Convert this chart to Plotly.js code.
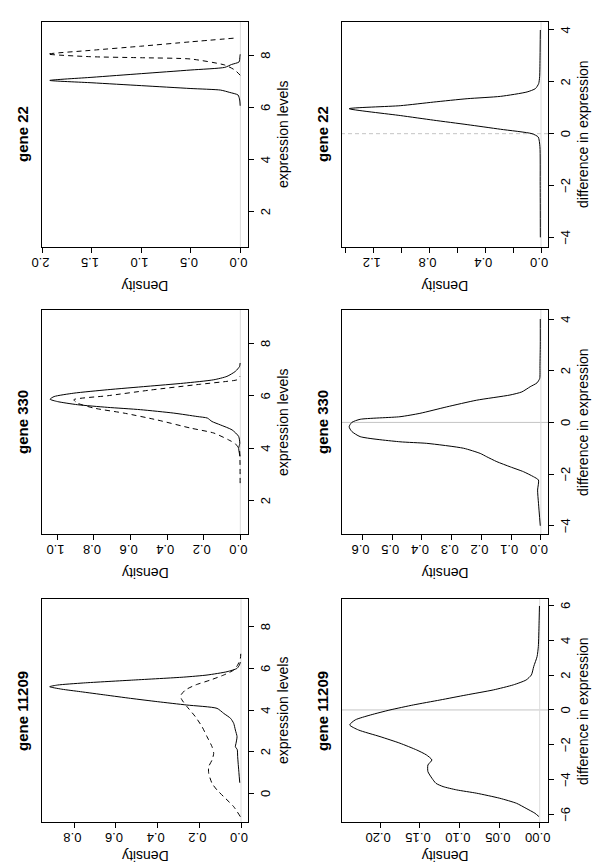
<!DOCTYPE html>
<html>
<head>
<meta charset="utf-8">
<script src="https://cdn.plot.ly/plotly-3.0.1.min.js"></script>
<style>
html, body { margin: 0; padding: 0; width: 600px; height: 865px; overflow: hidden; background: #ffffff; }
#wrap { position: absolute; left: 0; top: 0; width: 865px; height: 600px;
        transform-origin: 0 0; transform: translate(0px, 865px) rotate(-90deg); }
#chart { width: 865px; height: 600px; }
</style>
</head>
<body>
<div id="wrap"><div id="chart"></div></div>
<script>
// ---------------- data ----------------
const genes = ["gene 11209", "gene 330", "gene 22"];

// gene 11209 : expression levels (solid / dashed densities)
const e11209SolidX = [0.51, 1.0, 1.76, 2.1, 2.24, 2.4, 2.72, 3.04, 3.36, 3.6, 3.84, 4.08, 4.24, 4.4, 4.56, 4.72, 4.88, 5.0, 5.12, 5.2, 5.3, 5.44, 5.58, 5.68, 5.84, 6.0, 6.15, 6.3];
const e11209SolidY = [0.006, 0.01, 0.016, 0.018, 0.027, 0.024, 0.019, 0.027, 0.035, 0.05, 0.083, 0.115, 0.26, 0.40, 0.53, 0.65, 0.77, 0.86, 0.918, 0.88, 0.755, 0.515, 0.275, 0.163, 0.067, 0.019, 0.008, 0.003];
const e11209DashX = [-1.12, -0.64, -0.16, 0.16, 0.48, 0.96, 1.28, 1.6, 1.92, 2.24, 2.72, 3.2, 3.68, 4.16, 4.48, 4.67, 4.96, 5.2, 5.44, 5.68, 5.92, 6.16, 6.48, 6.72];
const e11209DashY = [0.003, 0.035, 0.083, 0.115, 0.139, 0.155, 0.155, 0.139, 0.131, 0.139, 0.163, 0.187, 0.219, 0.259, 0.283, 0.291, 0.267, 0.219, 0.147, 0.083, 0.035, 0.016, 0.003, 0.001];

// gene 330 : expression levels
const e330SolidX = [3.69, 4.0, 4.19, 4.45, 4.7, 4.89, 5.02, 5.15, 5.21, 5.34, 5.47, 5.56, 5.66, 5.78, 5.87, 5.97, 6.10, 6.23, 6.36, 6.48, 6.61, 6.74, 6.93, 7.12, 7.25];
const e330SolidY = [0.002, 0.009, 0.003, 0.009, 0.045, 0.109, 0.155, 0.18, 0.236, 0.364, 0.545, 0.727, 0.89, 1.0, 1.04, 1.018, 0.91, 0.727, 0.51, 0.31, 0.145, 0.073, 0.027, 0.004, 0.001];
const e330DashX = [2.67, 3.56, 3.94, 4.17, 4.32, 4.58, 4.77, 5.08, 5.34, 5.53, 5.72, 5.85, 6.0, 6.22, 6.44, 6.55, 6.61, 6.74];
const e330DashY = [0.001, 0.002, 0.005, 0.027, 0.064, 0.145, 0.273, 0.455, 0.636, 0.80, 0.89, 0.91, 0.727, 0.49, 0.218, 0.073, 0.018, 0.002];

// gene 22 : expression levels
const e22SolidX = [6.06, 6.28, 6.47, 6.57, 6.66, 6.72, 6.83, 6.94, 7.03, 7.15, 7.29, 7.43, 7.53, 7.64, 7.74, 7.94, 8.03];
const e22SolidY = [0.002, 0.007, 0.023, 0.107, 0.2, 0.5, 1.0, 1.5, 1.926, 1.5, 1.0, 0.5, 0.158, 0.09, 0.013, 0.005, 0.002];
const e22DashX = [7.23, 7.43, 7.62, 7.85, 7.90, 7.94, 8.04, 8.18, 8.34, 8.51, 8.66];
const e22DashY = [0.002, 0.057, 0.158, 0.5, 1.01, 1.52, 1.946, 1.52, 1.01, 0.5, 0.03];

// difference in expression
const d11209X = [-6.12, -5.93, -5.65, -5.36, -5.07, -4.78, -4.59, -4.40, -4.21, -3.92, -3.54, -3.16, -2.87, -2.58, -2.30, -1.91, -1.53, -1.15, -0.86, -0.57, -0.29, 0.0, 0.29, 0.57, 0.86, 1.15, 1.44, 1.72, 2.01, 2.49, 3.06, 3.64, 4.98, 5.97];
const d11209Y = [0.001, 0.006, 0.017, 0.029, 0.05, 0.079, 0.104, 0.121, 0.13, 0.135, 0.14, 0.14, 0.135, 0.142, 0.154, 0.175, 0.2, 0.227, 0.238, 0.231, 0.212, 0.1875, 0.158, 0.125, 0.092, 0.058, 0.033, 0.017, 0.0104, 0.0075, 0.0033, 0.0017, 0.0008, 0.0003];
const d330X = [-4.0, -3.13, -2.62, -2.23, -2.1, -1.91, -1.72, -1.52, -1.33, -1.2, -1.0, -0.81, -0.75, -0.55, -0.35, -0.17, 0.0, 0.12, 0.22, 0.35, 0.6, 0.86, 1.06, 1.18, 1.38, 1.53, 1.7, 2.2, 3.0, 4.0];
const d330Y = [0.002, 0.008, 0.011, 0.008, 0.025, 0.058, 0.103, 0.148, 0.182, 0.204, 0.26, 0.384, 0.474, 0.608, 0.636, 0.645, 0.636, 0.608, 0.474, 0.407, 0.317, 0.216, 0.104, 0.064, 0.036, 0.013, 0.004, 0.003, 0.002, 0.002];
const d22X = [-4.0, -2.0, -0.5, -0.13, 0.0, 0.17, 0.35, 0.52, 0.7, 0.965, 1.08, 1.22, 1.35, 1.44, 1.61, 1.74, 1.93, 2.2, 3.0, 4.0];
const d22Y = [0.005, 0.006, 0.008, 0.02, 0.065, 0.29, 0.53, 0.77, 1.01, 1.377, 1.01, 0.77, 0.53, 0.29, 0.1, 0.04, 0.017, 0.01, 0.007, 0.005];

// axis ranges and ticks (per gene: 11209, 330, 22)
const exprRanges = [[-1.39, 9.33], [0.72, 9.27], [0.66, 9.28]];
const exprDensRanges = [[-0.0336, 0.955], [-0.042, 1.084], [-0.077, 2.005]];
const diffRanges = [[-6.45, 6.37], [-4.33, 4.35], [-4.36, 4.32]];
const diffDensRanges = [[-0.0104, 0.248], [-0.024, 0.67], [-0.05, 1.43]];

const exprTicks = [[0, 2, 4, 6, 8], [2, 4, 6, 8], [2, 4, 6, 8]];
const exprDensTicks = [[0, 0.2, 0.4, 0.6, 0.8], [0, 0.2, 0.4, 0.6, 0.8, 1.0], [0, 0.5, 1.0, 1.5, 2.0]];
const exprDensLabels = [["0.0", "0.2", "0.4", "0.6", "0.8"], ["0.0", "0.2", "0.4", "0.6", "0.8", "1.0"], ["0.0", "0.5", "1.0", "1.5", "2.0"]];
const diffTicks = [[-6, -4, -2, 0, 2, 4, 6], [-4, -2, 0, 2, 4], [-4, -2, 0, 2, 4]];
const diffDensTicks = [[0, 0.05, 0.1, 0.15, 0.2], [0, 0.1, 0.2, 0.3, 0.4, 0.5, 0.6], [0, 0.2, 0.4, 0.6, 0.8, 1.0, 1.2, 1.4]];
const diffDensLabels = [["0.00", "0.05", "0.10", "0.15", "0.20"], ["0.0", "0.1", "0.2", "0.3", "0.4", "0.5", "0.6"], ["0.0", "", "0.4", "", "0.8", "", "1.2", ""]];

const xLabelExpr = "expression levels";
const xLabelDiff = "difference in expression";
const yLabel = "Density";

// ---------------- layout geometry (unrotated R page, 865 x 600) ----------------
const W = 865, H = 600;
const colU = [[42.7, 266], [330.7, 555], [618.3, 843.3]];
const rowV = [[42, 248], [341.7, 548]];
const densTitleGap = [34, 39, 39];
const FONT = "Liberation Sans, Arial, Helvetica, sans-serif";

const exprSeries = [
  [e11209SolidX, e11209SolidY, e11209DashX, e11209DashY],
  [e330SolidX, e330SolidY, e330DashX, e330DashY],
  [e22SolidX, e22SolidY, e22DashX, e22DashY]
];
const diffSeries = [[d11209X, d11209Y], [d330X, d330Y], [d22X, d22Y]];

function minus(v) { return v < 0 ? "\u2212" + Math.abs(v) : String(v); }
function axId(n) { return n === 1 ? "" : String(n); }

const traces = [];
const layout = {
  width: W, height: H,
  margin: { l: 0, r: 0, t: 0, b: 0 },
  paper_bgcolor: "#ffffff", plot_bgcolor: "#ffffff",
  showlegend: false,
  font: { family: FONT, color: "#000000" },
  shapes: [], annotations: []
};

function baseAxis() {
  return {
    ticks: "outside", ticklen: 5, tickwidth: 1, tickcolor: "#000000",
    showline: true, linecolor: "#000000", linewidth: 1, mirror: true,
    showgrid: false, zeroline: false, fixedrange: true,
    tickfont: { family: FONT, size: 13, color: "#000000" }
  };
}

for (let g = 0; g < 3; g++) {
  for (let r = 0; r < 2; r++) {
    const n = r === 0 ? g + 1 : g + 4;
    const id = axId(n);
    const xd = [colU[g][0] / W, colU[g][1] / W];
    const yd = [1 - rowV[r][1] / H, 1 - rowV[r][0] / H];
    const xa = baseAxis(), ya = baseAxis();
    xa.domain = xd; ya.domain = yd;
    xa.anchor = "y" + id; ya.anchor = "x" + id;
    ya.tickangle = -90;
    if (r === 0) {
      xa.range = exprRanges[g]; xa.tickvals = exprTicks[g]; xa.ticktext = exprTicks[g].map(minus);
      ya.range = exprDensRanges[g]; ya.tickvals = exprDensTicks[g]; ya.ticktext = exprDensLabels[g];
      const s = exprSeries[g];
      traces.push({ x: s[0], y: s[1], xaxis: "x" + id, yaxis: "y" + id, type: "scatter", mode: "lines",
        line: { color: "#000000", width: 1, shape: "spline", smoothing: 0.6 }, hoverinfo: "skip" });
      traces.push({ x: s[2], y: s[3], xaxis: "x" + id, yaxis: "y" + id, type: "scatter", mode: "lines",
        line: { color: "#000000", width: 1, dash: "5px,4px", shape: "spline", smoothing: 0.6 }, hoverinfo: "skip" });
    } else {
      xa.range = diffRanges[g]; xa.tickvals = diffTicks[g]; xa.ticktext = diffTicks[g].map(minus);
      ya.range = diffDensRanges[g]; ya.tickvals = diffDensTicks[g]; ya.ticktext = diffDensLabels[g];
      const s = diffSeries[g];
      traces.push({ x: s[0], y: s[1], xaxis: "x" + id, yaxis: "y" + id, type: "scatter", mode: "lines",
        line: { color: "#000000", width: 1, shape: "spline", smoothing: 0.6 }, hoverinfo: "skip" });
      layout.shapes.push({ type: "line", layer: "below", xref: "x" + id, yref: "y" + id + " domain",
        x0: 0, x1: 0, y0: 0, y1: 1,
        line: { color: "#c4c4c4", width: 1, dash: g === 2 ? "4px,3px" : "solid" } });
    }
    layout["xaxis" + id] = xa;
    layout["yaxis" + id] = ya;
    // density zero line (as drawn by plot.density)
    layout.shapes.push({ type: "line", layer: "below", xref: "x" + id + " domain", yref: "y" + id,
      x0: 0, x1: 1, y0: 0, y1: 0, line: { color: "#dcdcdc", width: 1 } });

    const cu = (colU[g][0] + colU[g][1]) / 2;
    const cv = (rowV[r][0] + rowV[r][1]) / 2;
    // panel title
    layout.annotations.push({ xref: "paper", yref: "paper", x: cu / W, y: 1 - (rowV[r][0] - 19.5) / H,
      text: "<b>" + genes[g] + "</b>", showarrow: false, xanchor: "center", yanchor: "middle",
      font: { family: FONT, size: 15, color: "#000000" } });
    // x axis title
    layout.annotations.push({ xref: "paper", yref: "paper", x: cu / W, y: 1 - (rowV[r][1] + 35) / H,
      text: r === 0 ? xLabelExpr : xLabelDiff, showarrow: false, xanchor: "center", yanchor: "middle",
      font: { family: FONT, size: 14, color: "#000000" } });
    // y axis title
    layout.annotations.push({ xref: "paper", yref: "paper", x: (colU[g][0] - densTitleGap[g]) / W, y: 1 - cv / H,
      text: yLabel, textangle: -90, showarrow: false, xanchor: "center", yanchor: "middle",
      font: { family: FONT, size: 14, color: "#000000" } });
  }
}

Plotly.newPlot("chart", traces, layout, { displayModeBar: false, staticPlot: true });
</script>
</body>
</html>
